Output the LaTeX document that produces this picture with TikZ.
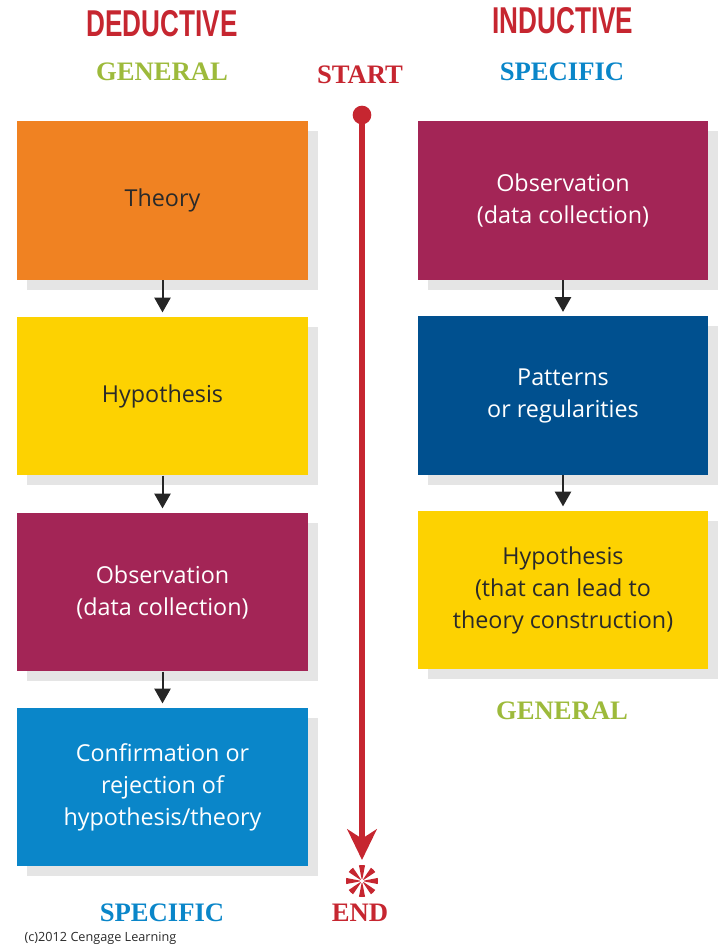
\documentclass[tikz,border=0pt]{standalone}
\usepackage{fontspec}
\setmainfont{Open Sans}
\newfontfamily\headfont[FakeStretch=0.7]{Liberation Sans}
\newfontfamily\stampfont{Liberation Serif}
\usepackage{tikz}
\usetikzlibrary{positioning,arrows.meta,shadows}

\definecolor{cgorange}{HTML}{F08222}
\definecolor{cgyellow}{HTML}{FDD201}
\definecolor{cgplum}{HTML}{A32556}
\definecolor{cgnavy}{HTML}{00508F}
\definecolor{cgsky}{HTML}{0A86C9}
\definecolor{cgred}{HTML}{C62630}
\definecolor{cggreen}{HTML}{9DBA3B}
\definecolor{cgtext}{HTML}{2A2A2A}

\begin{document}
\begin{tikzpicture}[x=0.75pt,y=-0.75pt,
  stepbox/.style={minimum width=218pt,minimum height=119pt,align=center,
    font=\fontsize{17.5}{24}\selectfont,
    drop shadow={shadow xshift=7.5pt,shadow yshift=-7.5pt,fill=black!10,opacity=1}},
  title/.style={font=\headfont\bfseries\fontsize{28}{30}\selectfont,text=cgred},
  stamp/.style={font=\stampfont\bfseries\fontsize{20}{22}\selectfont},
  link/.style={-{Triangle[length=11pt,width=12pt]},line width=1.5pt,black!85,shorten >=3pt}]

  \useasboundingbox (0,0) rectangle (718,946);

  % headings
  \node[title] (ded) at (162,24) {DEDUCTIVE};
  \node[title] (ind) at (563,21) {INDUCTIVE};
  \node[stamp,text=cggreen] (dgen) at (162,72) {GENERAL};
  \node[stamp,text=cgsky] (ispec) at (562,72) {SPECIFIC};
  \node[stamp,text=cgred] (start) at (360,75) {START};

  % deductive column
  \node[stepbox,fill=cgorange,text=cgtext] (theory) at (162.5,200.5) {Theory};
  \node[stepbox,fill=cgyellow,text=cgtext] (dhyp) at (162.5,396) {Hypothesis};
  \node[stepbox,fill=cgplum,text=white] (dobs) at (162.5,592) {Observation\\(data collection)};
  \node[stepbox,fill=cgsky,text=white] (conf) at (162.5,787) {Confirmation or\\rejection of\\hypothesis/theory};

  % inductive column
  \node[stepbox,fill=cgplum,text=white] (iobs) at (563,200.5) {Observation\\(data collection)};
  \node[stepbox,fill=cgnavy,text=white] (patt) at (563,395.5) {Patterns\\or regularities};
  \node[stepbox,fill=cgyellow,text=cgtext] (ihyp) at (563,590) {Hypothesis\\(that can lead to\\theory construction)};

  \draw[link] (theory) -- (dhyp);
  \draw[link] (dhyp) -- (dobs);
  \draw[link] (dobs) -- (conf);
  \draw[link] (iobs) -- (patt);
  \draw[link] (patt) -- (ihyp);

  % time line
  \coordinate (top) at (362,115);
  \coordinate (tip) at (362,860);
  \coordinate (burst) at (362,881);
  \fill[cgred] (top) circle (7pt);
  \draw[cgred,line width=4.5pt,-{Stealth[length=23pt,width=22pt,inset=7pt]}] (top) -- (tip);
  \foreach \a in {0,45,...,315}
    \fill[cgred] (burst) -- +(\a-11:12pt) arc[start angle=\a-11,end angle=\a+11,radius=12pt] -- cycle;
  \fill[white] (burst) circle (1.5pt);

  % bottom labels
  \node[stamp,text=cggreen] (igen) at (562,711) {GENERAL};
  \node[stamp,text=cgsky] (dspec) at (162,913) {SPECIFIC};
  \node[stamp,text=cgred] (stop) at (360,913) {END};
  \node[anchor=west,font=\fontsize{9.5}{11}\selectfont,text=cgtext] (copy) at (20,938) {(c)2012 Cengage Learning};
\end{tikzpicture}
\end{document}
